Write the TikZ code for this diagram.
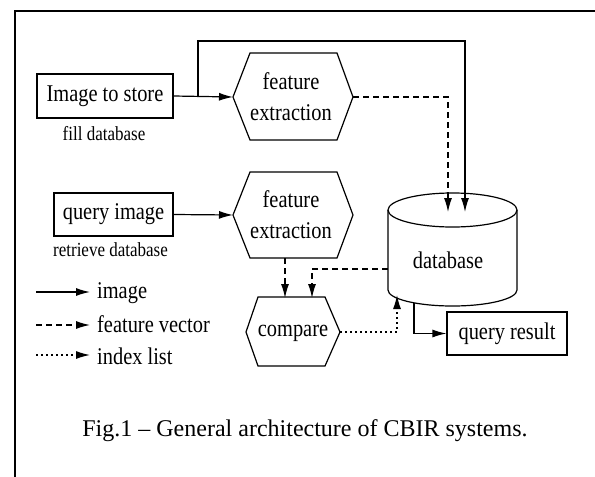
\documentclass[tikz,border=0pt]{standalone}
\usepackage{fontspec}
\setmainfont{Liberation Serif}
\newfontfamily\lblfont[FakeStretch=0.85]{Liberation Serif}
\usetikzlibrary{arrows.meta}
\begin{document}
\begin{tikzpicture}[x=1pt,y=-1pt,
  lbl/.style={font=\lblfont\fontsize{24}{31}\selectfont, align=center, inner sep=0pt},
  small/.style={font=\lblfont\fontsize{20}{24}\selectfont, inner sep=0pt},
  box/.style={draw, line width=1.2pt, inner sep=0pt, font=\lblfont\fontsize{24}{31}\selectfont},
  shp/.style={draw, line width=1.2pt},
  flow/.style={line width=1.2pt, -{Latex[length=14pt,width=8pt]}},
  fv/.style={flow, dash pattern=on 6pt off 4pt},
  idx/.style={flow, dash pattern=on 2pt off 3pt}]

\useasboundingbox (0,0) rectangle (595,477);

% outer frame (open to the right and bottom)
\draw[line width=2pt] (597,11) -- (15,11) -- (15,479);

% input boxes
\node[box, minimum width=136pt, minimum height=44pt] (store) at (105,96) {Image to store};
\node[small, anchor=base] (storelbl) at (104,140) {fill database};
\node[box, minimum width=119pt, minimum height=43pt] (qimg) at (113.5,214.5) {query image};
\node[small, anchor=base] (qimglbl) at (110.5,256) {retrieve database};

% feature extraction (store path)
\draw[shp] (233,97) -- (250,53) -- (337,53) -- (353,97) -- (337,140) -- (250,140) -- cycle;
\node[lbl] (fe1) at (291,97) {feature\\extraction};
\coordinate (fe1w) at (233,97);
\coordinate (fe1e) at (353,97);

% feature extraction (query path)
\draw[shp] (233,215) -- (250,172) -- (337,172) -- (353,215) -- (337,258) -- (250,258) -- cycle;
\node[lbl] (fe2) at (291,215) {feature\\extraction};
\coordinate (fe2w) at (233,215);
\coordinate (fe2s) at (285,258);

% compare
\draw[shp] (246,332) -- (258,297) -- (325,297) -- (340,332) -- (325,366) -- (258,366) -- cycle;
\node[lbl, anchor=base] (cmp) at (293,336) {compare};
\coordinate (cmpe) at (340,332);
\coordinate (cmpn1) at (285,298);
\coordinate (cmpn2) at (312,298);

% database cylinder
\draw[shp] (388,210) -- (388,290) arc[start angle=180, end angle=0, x radius=64.5, y radius=16] -- (517,210);
\draw[shp] (452.5,210) ellipse [x radius=64.5, y radius=17];
\node[lbl] (db) at (448,260) {database};
\coordinate (dbin1) at (448,212);
\coordinate (dbin2) at (465,212);
\coordinate (dbleft) at (388,269);
\coordinate (dbin3) at (397,295);
\coordinate (dbout) at (414,303);

% query result
\node[box, minimum width=120pt, minimum height=43pt] (qres) at (507,333.5) {query result};

% connectors
\draw[flow] (store.east) -- (fe1w);
\coordinate (split) at (198,96);
\draw[flow] (split) |- (465,41) -- (dbin2);
\draw[fv] (fe1e) -| (dbin1);
\draw[flow] (qimg.east) -- (fe2w);
\draw[fv] (fe2s) -- (cmpn1);
\draw[fv] (dbleft) -| (cmpn2);
\draw[idx] (cmpe) -| (dbin3);
\draw[flow] (dbout) |- (qres.west);

% legend
\coordinate (la1) at (36,292); \coordinate (lb1) at (90,292);
\coordinate (la2) at (36,325); \coordinate (lb2) at (90,325);
\coordinate (la3) at (36,355); \coordinate (lb3) at (90,355);
\draw[flow] (la1) -- (lb1);
\draw[fv] (la2) -- (lb2);
\draw[idx] (la3) -- (lb3);
\node[lbl, anchor=base west] (leg1) at (97,298) {image};
\node[lbl, anchor=base west] (leg2) at (97,332) {feature vector};
\node[lbl, anchor=base west] (leg3) at (97,364) {index list};

% caption
\node[font=\fontsize{24}{29}\selectfont, inner sep=0pt, anchor=base] (cap) at (305,436)
  {Fig.1 \textendash{} General architecture of CBIR systems.};
\end{tikzpicture}
\end{document}
